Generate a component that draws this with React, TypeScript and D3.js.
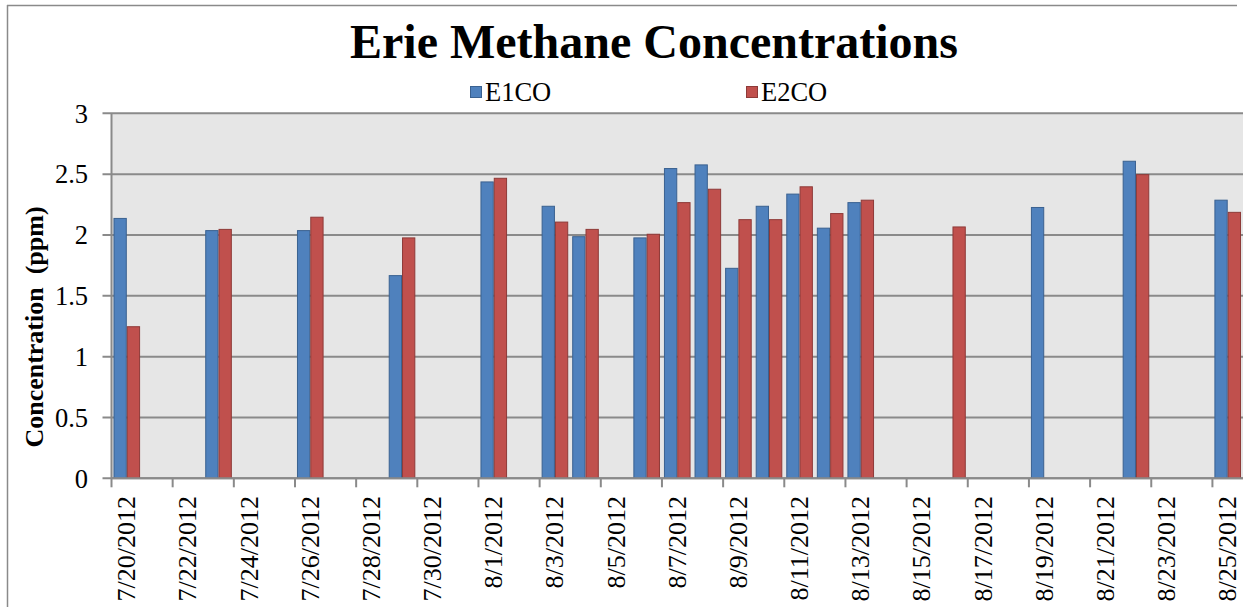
import React from "react";
import * as d3 from "d3";

const dates = ["2012-07-20", "2012-07-23", "2012-07-26", "2012-07-29", "2012-08-01", "2012-08-03", "2012-08-04", "2012-08-06", "2012-08-07", "2012-08-08", "2012-08-09", "2012-08-10", "2012-08-11", "2012-08-12", "2012-08-13", "2012-08-16", "2012-08-19", "2012-08-22", "2012-08-25"];
const e1co: (number | null)[] = [2.14, 2.04, 2.04, 1.67, 2.44, 2.24, 1.99, 1.98, 2.55, 2.58, 1.73, 2.24, 2.34, 2.06, 2.27, null, 2.23, 2.61, 2.29];
const e2co: (number | null)[] = [1.25, 2.05, 2.15, 1.98, 2.47, 2.11, 2.05, 2.01, 2.27, 2.38, 2.13, 2.13, 2.40, 2.18, 2.29, 2.07, null, 2.50, 2.19];
const xTickLabels = ["7/20/2012", "7/22/2012", "7/24/2012", "7/26/2012", "7/28/2012", "7/30/2012", "8/1/2012", "8/3/2012", "8/5/2012", "8/7/2012", "8/9/2012", "8/11/2012", "8/13/2012", "8/15/2012", "8/17/2012", "8/19/2012", "8/21/2012", "8/23/2012", "8/25/2012"];
const yTicks = [0, 0.5, 1, 1.5, 2, 2.5, 3];
const seriesNames = ["E1CO", "E2CO"];
const domainStart = "2012-07-20";
const domainEnd = "2012-08-26";

const W = 1255, H = 607;
const left = 111.5, right = 1243, top = 113.3, bottom = 478.3;
const FONT = "'Liberation Serif', 'Times New Roman', serif";
const colors = ["#4f81bd", "#c0504d"];
const strokes = ["#3a6190", "#8e3a38"];
const grid = "#8a8a8a";

export default function App() {
  const parse = d3.timeParse("%Y-%m-%d");
  const parseLbl = d3.timeParse("%m/%d/%Y");
  const x = d3.scaleTime().domain([parse(domainStart)!, parse(domainEnd)!]).range([left, right]);
  const y = d3.scaleLinear().domain([0, 3]).range([bottom, top]);
  const day = (right - left) / d3.timeDay.count(parse(domainStart)!, parse(domainEnd)!);
  const barW = 13.3;
  const off = (day - 2 * barW) / 2;
  const series = [e1co, e2co];

  return (
    <svg width={W} height={H} style={{ position: "absolute", left: 0, top: 0, background: "#fff" }} fontFamily={FONT}>
      <line x1={7.5} x2={7.5} y1={5} y2={H} stroke={grid} strokeWidth={1.5} />
      <line x1={7} x2={1237} y1={5.5} y2={5.5} stroke={grid} strokeWidth={1.5} />
      <text x={654} y={58} textAnchor="middle" fontSize={48} fontWeight="bold">Erie Methane Concentrations</text>
      {seriesNames.map((n, i) => {
        const lx = i === 0 ? 470 : 746;
        return (
          <g key={n}>
            <rect x={lx + 0.5} y={86.5} width={11} height={11} fill={colors[i]} stroke={strokes[i]} strokeWidth={1} />
            <text x={lx + 15} y={101} fontSize={26.5}>{n}</text>
          </g>
        );
      })}
      <rect x={left} y={top} width={right - left} height={bottom - top} fill="#e6e6e6" />
      {yTicks.map((t) => (
        <g key={t}>
          <line x1={left - 9} x2={right} y1={y(t)} y2={y(t)} stroke={grid} strokeWidth={2} />
          <text x={88} y={y(t)} dy="0.35em" textAnchor="end" fontSize={26.5}>{t}</text>
        </g>
      ))}
      <line x1={left} x2={left} y1={top} y2={bottom} stroke={grid} strokeWidth={2} />
      {dates.map((d, i) => {
        const dt = parse(d)!;
        return series.map((s, k) => {
          const v = s[i];
          if (v == null) return null;
          return (
            <rect key={d + k} x={x(dt) + off + k * barW + 0.5} y={y(v) + 0.5} width={barW - 1} height={bottom - y(v) - 0.5}
              fill={colors[k]} stroke={strokes[k]} strokeWidth={1} />
          );
        });
      })}
      <line x1={left} x2={right} y1={bottom} y2={bottom} stroke={grid} strokeWidth={2} />
      {xTickLabels.map((l) => {
        const dt = parseLbl(l)!;
        const tx = x(dt);
        return (
          <g key={l}>
            <line x1={tx} x2={tx} y1={bottom} y2={bottom + 9} stroke={grid} strokeWidth={2} />
            <text transform={`translate(${tx + day / 2},496) rotate(-90)`} textAnchor="end" dominantBaseline="central" fontSize={26}>{l}</text>
          </g>
        );
      })}
      <text transform={`translate(34,327) rotate(-90)`} textAnchor="middle" dominantBaseline="central" fontSize={26} fontWeight="bold" style={{ whiteSpace: "pre" }}>Concentration  (ppm)</text>
    </svg>
  );
}
